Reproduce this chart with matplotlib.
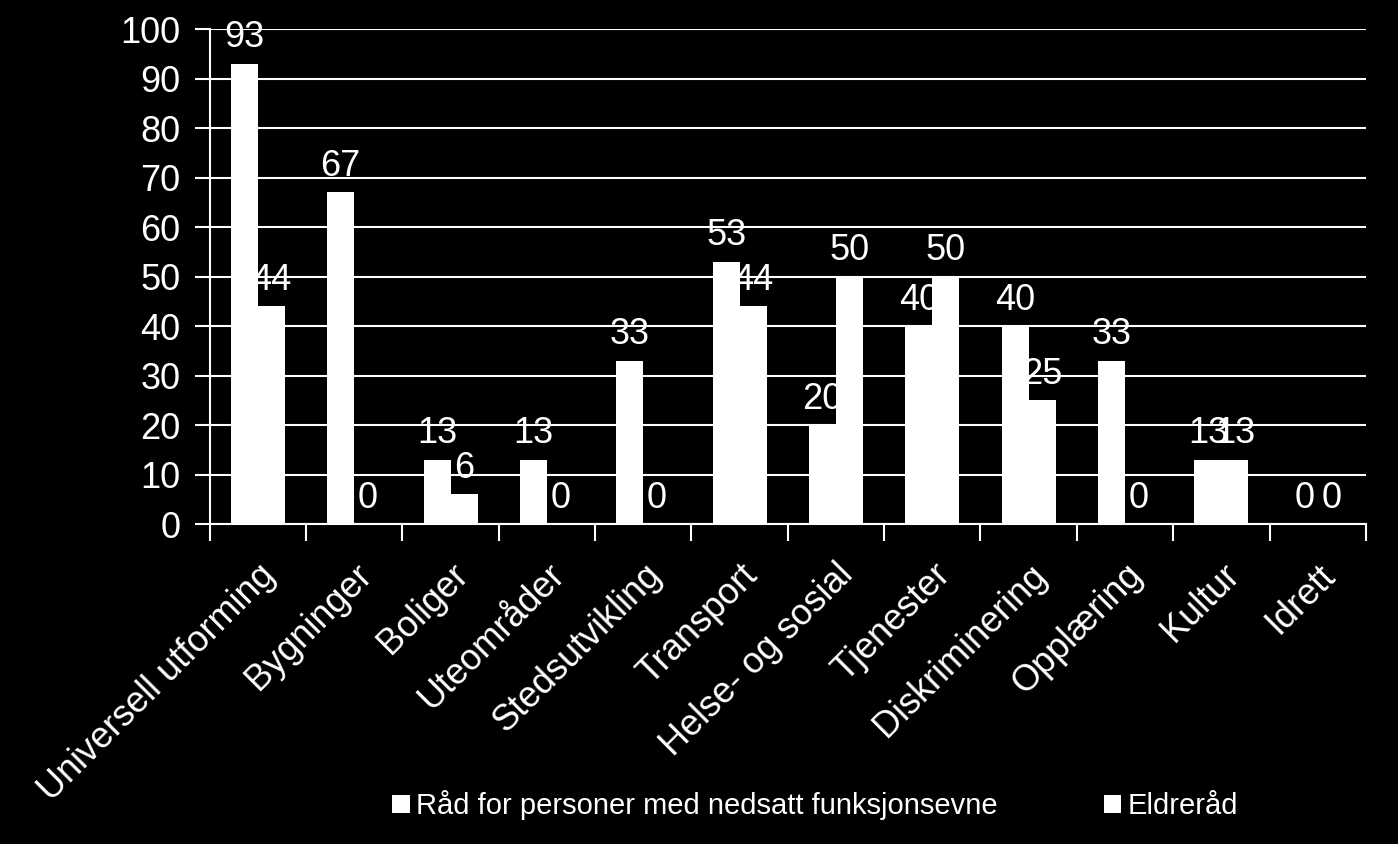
import numpy as np
import matplotlib
matplotlib.use("Agg")
import matplotlib.pyplot as plt
from matplotlib.patches import Patch

categories = ["Universell utforming", "Bygninger", "Boliger", "Uteområder",
              "Stedsutvikling", "Transport", "Helse- og sosial", "Tjenester",
              "Diskriminering", "Opplæring", "Kultur", "Idrett"]
raad = [93, 67, 13, 13, 33, 53, 20, 40, 40, 33, 13, 0]
eldre = [44, 0, 6, 0, 0, 44, 50, 50, 25, 0, 13, 0]
series_names = ["Råd for personer med nedsatt funksjonsevne", "Eldreråd"]

plt.rcParams['font.family'] = ['Liberation Sans', 'DejaVu Sans']

fig = plt.figure(figsize=(13.98, 8.44), dpi=100, facecolor="black")
ax = fig.add_axes([0.150, 0.379, 0.827, 0.5865], facecolor="black")

x = np.arange(len(categories))
w = 0.28
b1 = ax.bar(x - w / 2, raad, w, color="white", zorder=3)
b2 = ax.bar(x + w / 2, eldre, w, color="white", zorder=3)

# value labels above each bar (Kultur overlaps, as in the original)
for bars, vals in ((b1, raad), (b2, eldre)):
    for bar, v in zip(bars, vals):
        ax.annotate(str(v), (bar.get_x() + bar.get_width() / 2, v),
                    xytext=(0, 6), textcoords="offset points",
                    ha="center", va="bottom", color="white", fontsize=26, zorder=4)

ax.set_ylim(0, 100)
ax.set_xlim(-0.5, len(categories) - 0.5)
ax.set_yticks(range(0, 101, 10))
ax.yaxis.grid(True, color="white", linewidth=1.5, zorder=0)
ax.tick_params(axis="y", colors="white", labelsize=26, length=11, width=1.5, pad=10)

ax.set_xticks(x)
ax.set_xticklabels(categories, rotation=45, ha="right", va="top",
                   rotation_mode="anchor", color="white", fontsize=26)
ax.set_xticks(np.arange(-0.5, len(categories), 1), minor=True)
ax.tick_params(axis="x", which="major", length=0, pad=24)
ax.tick_params(axis="x", which="minor", colors="white", length=12, width=1.5)

for side in ("top", "right"):
    ax.spines[side].set_visible(False)
for side in ("left", "bottom"):
    ax.spines[side].set_color("white")
    ax.spines[side].set_linewidth(1.5)

handles = [Patch(facecolor="white"), Patch(facecolor="white")]
fig.legend(handles, series_names, loc="center", bbox_to_anchor=(0.583, 0.046),
           ncol=2, frameon=False, fontsize=21, labelcolor="white",
           handlelength=0.6, handleheight=0.6, handletextpad=0.2,
           columnspacing=3.65)

fig.savefig("out.png", dpi=100, facecolor="black")
